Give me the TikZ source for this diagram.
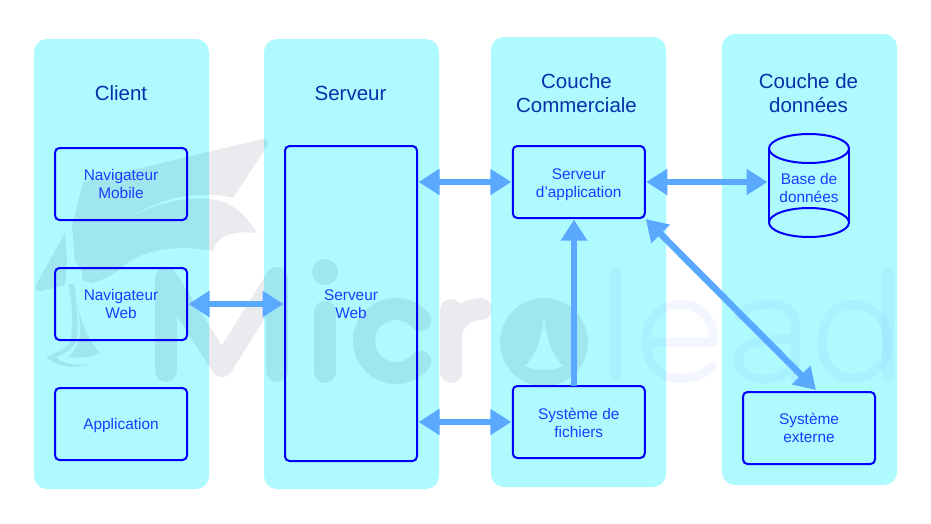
\documentclass[tikz,border=0pt]{standalone}
\usepackage{fontspec}
\setmainfont{Liberation Sans}
\usetikzlibrary{arrows.meta,calc}
\definecolor{colcyan}{RGB}{174,250,255}
\definecolor{boxblue}{RGB}{0,0,255}
\definecolor{txtblue}{RGB}{28,60,255}
\definecolor{titleblue}{RGB}{8,48,170}
\definecolor{arrowblue}{RGB}{90,169,255}
\definecolor{wmdark}{RGB}{20,30,80}
\definecolor{wmlight}{RGB}{100,130,255}
\newcommand{\toplift}[1]{\rule{0pt}{#1}}
\tikzset{
  column/.style={fill=colcyan,draw=none,rounded corners=13pt,minimum width=175pt,outer sep=0pt},
  titletext/.style={text=titleblue,align=center,font=\fontsize{20.5}{24}\selectfont,inner sep=0pt},
  box/.style={draw=boxblue,line width=2pt,rounded corners=4.5pt,minimum width=132pt,minimum height=72pt,
    outer sep=0pt,align=center,text=txtblue,font=\fontsize{15.4}{18}\selectfont,inner sep=0pt},
  dbtext/.style={minimum width=80pt,minimum height=103pt,outer sep=0pt,align=center,text=txtblue,
    font=\fontsize{15.4}{18}\selectfont,inner sep=0pt},
  dbline/.style={draw=boxblue,line width=2pt},
  flow/.style={draw=arrowblue,line width=6.5pt,shorten >=1.5pt,shorten <=1.5pt,
    {Triangle[length=21pt,width=25pt]}-{Triangle[length=21pt,width=25pt]}},
  flowup/.style={draw=arrowblue,line width=6.5pt,-{Triangle[length=21pt,width=25pt]}},
  wmfill/.style={fill=wmdark,fill opacity=.09,draw=none},
  wmstroke/.style={draw=wmdark,draw opacity=.09,line width=22pt,line cap=round,line join=round},
  wmthin/.style={draw=wmlight,draw opacity=.07,line width=9pt,line cap=round,line join=round},
}
\begin{document}
\begin{tikzpicture}[x=1pt,y=-1pt]
\useasboundingbox (0,0) rectangle (931,523);
% columns
\node[column,minimum height=450pt] (colclient) at (121.5,264) {};
\node[column,minimum height=450pt] (colserver) at (351.5,264) {};
\node[column,minimum height=450pt] (colbiz) at (578.5,262) {};
\node[column,minimum height=451pt] (coldata) at (809.5,259.5) {};
% watermark: cap
\path[wmfill] (262,139) .. controls (268,138) and (269,142) .. (267,146) -- (233,198)
  .. controls (215,193) and (170,190) .. (130,218)
  .. controls (170,194) and (215,196) .. (228,204)
  .. controls (242,211) and (250,222) .. (257,233)
  .. controls (240,231) and (218,232) .. (213,251)
  .. controls (180,245) and (145,248) .. (125,265)
  .. controls (115,274) and (105,279) .. (92,283)
  -- (82,280) .. controls (84,272) and (80,266) .. (75,262)
  -- (72,225) -- (83,182) -- cycle;
\path[wmfill] (65,233) -- (36,285) .. controls (34,289) and (37,291) .. (41,291)
  -- (65,285) .. controls (67,275) and (65,268) .. (67,262) -- cycle;
\path[wmfill] (68,284) .. controls (72,300) and (74,325) .. (70,342)
  .. controls (66,350) and (55,352) .. (46,357)
  .. controls (55,366) and (75,370) .. (90,364)
  .. controls (75,366) and (62,364) .. (56,357)
  .. controls (68,352) and (75,347) .. (77,338)
  .. controls (79,320) and (76,300) .. (74,284) -- cycle;
\path[wmfill] (75,286) .. controls (78,310) and (83,335) .. (100,353)
  .. controls (90,358) and (78,358) .. (68,357)
  .. controls (76,350) and (80,342) .. (80,330)
  .. controls (80,315) and (77,300) .. (75,286) -- cycle;
% watermark: letters
\draw[wmstroke] (166,278) -- (166,371) (166,278) -- (222,366) -- (277,278) -- (277,371);
\path[wmfill] (325,272) circle[radius=13pt];
\draw[wmstroke] (325,312) -- (325,372);
\draw[wmstroke] (420.5,320.4) arc[start angle=40,end angle=320,radius=32pt];
\draw[wmstroke] (451,310) -- (451,372) (451,332) .. controls (455,316) and (470,309) .. (481,309);
\path[wmfill,even odd rule] (544,342) circle[radius=44pt]
  (544,315) .. controls (545,335) and (552,355) .. (563,366)
  .. controls (555,371) and (533,371) .. (525,366)
  .. controls (536,355) and (543,335) .. (544,315) -- cycle;
\draw[wmthin,line width=11pt] (615,272) -- (615,376);
\draw[wmthin] (646,342) -- (714,342) .. controls (714,318) and (700,304.5) .. (680,304.5)
  .. controls (660,304.5) and (646,320) .. (646,342)
  .. controls (646,364) and (660,378.5) .. (680,378.5)
  .. controls (694,378.5) and (705,374) .. (712,367);
\draw[wmthin] (739,316) .. controls (748,306) and (760,304) .. (770,304)
  .. controls (785,304) and (795,312) .. (795,325) -- (795,378)
  (795,338) .. controls (770,340) and (738,340) .. (738,360)
  .. controls (738,376) and (755,379) .. (765,379)
  .. controls (780,379) and (795,370) .. (795,355);
\draw[wmthin] (853,304.5) .. controls (834,304.5) and (822,320) .. (822,342)
  .. controls (822,364) and (834,378.5) .. (853,378.5)
  .. controls (872,378.5) and (888,364) .. (888,342)
  .. controls (888,320) and (872,304.5) .. (853,304.5);
\draw[wmthin,line width=12pt] (888,273) -- (888,376);
% titles
\node[titletext] (tclient) at (121,93) {Client};
\node[titletext] (tserver) at (350.5,93.5) {Serveur};
\node[titletext] (tbiz) at (576.5,93) {Couche\\Commerciale};
\node[titletext] (tdata) at (808.5,93) {Couche de\\données};
% boxes
\node[box] (navmobile) at (121,184) {Navigateur\\Mobile};
\node[box] (navweb) at (121,304) {Navigateur\\Web};
\node[box] (appli) at (121,424) {\toplift{15pt}Application};
\node[box,minimum height=315pt] (webserver) at (351,303.5) {\toplift{13pt}Serveur\\Web};
\node[box] (appserver) at (578.75,182) {\toplift{17pt}Serveur\\d’application};
\node[box] (files) at (578.75,422) {\toplift{13pt}Système de\\fichiers};
\node[box] (external) at (809,428) {Système\\externe};
% database
\node[dbtext] (db) at (809,185.5) {\toplift{17pt}Base de\\données};
\draw[dbline] (db.north west) ++(0,14.5) coordinate (dbtl) arc[x radius=40pt,y radius=14.5pt,start angle=180,end angle=-180];
\draw[dbline] (db.south west) ++(0,-14.5) coordinate (dbbl) arc[x radius=40pt,y radius=14.5pt,start angle=180,end angle=-180];
\draw[dbline] (dbtl) -- (dbbl) ($(db.north east)+(0,14.5)$) -- ($(db.south east)+(0,-14.5)$);
% connectors
\coordinate (upstart) at (574,386);
\coordinate (upend) at (574,219.5);
\coordinate (extin) at (817,391);
\draw[flow] (navweb.east) -- (webserver.west |- navweb.east);
\draw[flow] (webserver.east |- appserver.west) -- (appserver.west);
\draw[flow] (webserver.east |- files.west) -- (files.west);
\draw[flow] (appserver.east) -- (db.west |- appserver.east);
\draw[flowup] (upstart) -- (upend);
\draw[flow] (appserver.south east) -- (extin);
\end{tikzpicture}
\end{document}
